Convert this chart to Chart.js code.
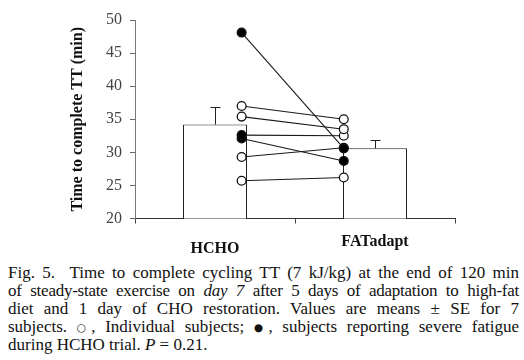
<!DOCTYPE html>
<html>
<head>
<meta charset="utf-8">
<script src="https://cdn.jsdelivr.net/npm/chart.js@4/dist/chart.umd.min.js"></script>
<style>
  html, body { margin: 0; padding: 0; background: #fff; }
  #wrap { position: relative; width: 524px; height: 360px; overflow: hidden; }
  #box { position: absolute; left: 0; top: 0; width: 524px; height: 256px; }
  #cap {
    position: absolute; left: 8px; top: 264px; width: 511px;
    font-family: "Liberation Serif", serif; font-size: 17px; line-height: 18px; color: #111;
  }
  #cap div { text-align: justify; text-align-last: justify; white-space: normal; }
  #cap div.tight { letter-spacing: -0.25px; }
  #cap div.last { text-align: left; text-align-last: left; }
  .sym { font-family: "DejaVu Sans", sans-serif; font-size: 0.62em; vertical-align: 1px; }
</style>
</head>
<body>
<div id="wrap">
  <div id="box"><canvas id="c"></canvas></div>
  <div id="cap">
    <div>Fig. 5.&nbsp; Time to complete cycling TT (7 kJ/kg) at the end of 120 min</div>
    <div class="tight">of steady-state exercise on <i>day 7</i> after 5 days of adaptation to high-fat</div>
    <div>diet and 1 day of CHO restoration. Values are means ± SE for 7</div>
    <div>subjects. <span class="sym">○</span>, Individual subjects; <span class="sym">●</span>, subjects reporting severe fatigue</div>
    <div class="last">during HCHO trial. <i>P</i> = 0.21.</div>
  </div>
</div>
<script>
const trials = ['HCHO', 'FATadapt'];
const means = [34.2, 30.6];
const se = [2.7, 1.2];

// one entry per subject
const hcho = [48.1, 37.0, 35.4, 32.6, 32.1, 29.3, 25.7];
const fatadapt = [30.6, 35.0, 33.5, 32.5, 28.7, 30.7, 26.2];
const fatigueHcho = [true, false, false, true, true, false, false];
const fatigueFat = [true, false, false, false, true, false, false];

const yTicks = [20, 25, 30, 35, 40, 45, 50];

const serif = '"Liberation Serif", "Times New Roman", serif';
const ptX = [0.583, 1.381];

let datasets = [{
    type: 'bar',
    data: means,
    xAxisID: 'x',
    backgroundColor: '#fff',
    borderColor: '#222',
    borderWidth: 1,
    borderSkipped: 'bottom',
    grouped: false,
    barPercentage: 0.4,
    categoryPercentage: 1,
    order: 10
}];

for (let i = 0; i < hcho.length; i++) {
    datasets.push({
        type: 'line',
        xAxisID: 'x2',
        data: [{x: ptX[0], y: hcho[i]}, {x: ptX[1], y: fatadapt[i]}],
        borderColor: '#1a1a1a',
        borderWidth: 1.1,
        pointRadius: 4.4,
        pointBorderWidth: 1.3,
        pointBorderColor: '#111',
        pointBackgroundColor: [fatigueHcho[i] ? '#000' : '#fff', fatigueFat[i] ? '#000' : '#fff'],
        order: 1
    });
}

const errorBars = {
    id: 'errorBars',
    afterDatasetDraw(chart, args) {
        if (args.index !== 0) return;
        const ctx = chart.ctx;
        const xs = chart.scales.x, ys = chart.scales.y;
        ctx.save();
        ctx.strokeStyle = '#222';
        ctx.lineWidth = 1;
        for (let i = 0; i < means.length; i++) {
            const x = Math.round(xs.getPixelForValue(i)) + 0.5;
            const y0 = ys.getPixelForValue(means[i]);
            const y1 = Math.round(ys.getPixelForValue(means[i] + se[i])) + 0.5;
            ctx.beginPath();
            ctx.moveTo(x, y0);
            ctx.lineTo(x, y1);
            ctx.moveTo(x - 5, y1);
            ctx.lineTo(x + 5, y1);
            ctx.stroke();
        }
        ctx.restore();
    }
};

new Chart(document.getElementById('c'), {
    type: 'bar',
    data: {
        labels: [['', trials[0]], trials[1]],
        datasets: datasets
    },
    options: {
        responsive: true,
        maintainAspectRatio: false,
        animation: false,
        layout: { padding: { left: 0, right: 69, top: 20, bottom: 0 } },
        plugins: { legend: { display: false }, tooltip: { enabled: false } },
        scales: {
            x: {
                type: 'category',
                offset: true,
                afterFit: s => { s.height = 37.5; },
                grid: { offset: true, drawOnChartArea: false, tickLength: 5, color: '#444' },
                border: { color: '#333', width: 1 },
                ticks: {
                    padding: 15,
                    color: '#111',
                    font: { family: serif, size: 16, weight: 'bold', lineHeight: '7px' }
                }
            },
            x2: {
                type: 'linear',
                display: false,
                min: 0,
                max: 2
            },
            y: {
                min: 20,
                max: 50,
                afterFit: s => { s.width = 135; },
                afterBuildTicks: s => { s.ticks = yTicks.map(v => ({value: v})); },
                grid: { drawOnChartArea: false, tickLength: 5, color: '#666' },
                border: { color: '#777', width: 1 },
                ticks: {
                    padding: 8,
                    color: '#444',
                    font: { family: serif, size: 16 }
                },
                title: {
                    display: true,
                    text: 'Time to complete TT (min)',
                    color: '#111',
                    padding: { top: 68, bottom: 0 },
                    font: { family: serif, size: 16, weight: 'bold' }
                }
            }
        }
    },
    plugins: [errorBars]
});
</script>
</body>
</html>
